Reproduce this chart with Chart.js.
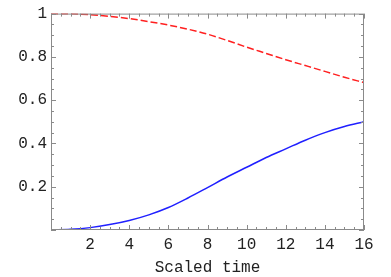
<!DOCTYPE html>
<html>
<head>
<meta charset="utf-8">
<script src="https://cdn.jsdelivr.net/npm/chart.js@4/dist/chart.umd.min.js"></script>
<style>
  html, body { margin: 0; padding: 0; background: #fff; }
  #wrap { position: relative; width: 391px; height: 277px; }
</style>
</head>
<body>
<div id="wrap"><canvas id="c"></canvas></div>
<script>
// values
const times = [0, 1, 2, 3, 4, 5, 6, 7, 8, 9, 10, 11, 12, 13, 14, 15, 16]
const redDashed = [1, 0.999, 0.995, 0.987, 0.977, 0.963, 0.947, 0.928, 0.905, 0.876, 0.845, 0.816, 0.787, 0.76, 0.733, 0.706, 0.681]
const blueSolid = [0, 0.003, 0.011, 0.025, 0.044, 0.07, 0.104, 0.148, 0.196, 0.245, 0.29, 0.335, 0.375, 0.415, 0.45, 0.478, 0.5]
const xTicks = [2, 4, 6, 8, 10, 12, 14, 16]
const yTicks = [0.2, 0.4, 0.6, 0.8, 1]
const xTitle = 'Scaled time'

const pts = (ys) => times.map((t, i) => ({ x: t, y: ys[i] }))
const tickFont = { family: 'Liberation Mono', size: 16 }

// Mathematica-like frame with inward ticks on all four sides
const framePlugin = {
  id: 'frame',
  afterDraw (chart) {
    const { ctx, chartArea: a, scales } = chart
    const sx = scales.x, sy = scales.y
    ctx.save()
    ctx.strokeStyle = '#8a8a8a'
    ctx.lineWidth = 1
    ctx.strokeRect(a.left + 0.5, a.top + 0.5, a.right - a.left - 1, a.bottom - a.top - 1)
    ctx.beginPath()
    for (let v = 0; v <= 16.001; v += 0.5) {
      const px = Math.round(sx.getPixelForValue(v)) + 0.5
      const len = (Math.abs(v % 2) < 1e-6) ? 5 : 3
      ctx.moveTo(px, a.bottom); ctx.lineTo(px, a.bottom - len)
      ctx.moveTo(px, a.top); ctx.lineTo(px, a.top + len)
    }
    for (let v = 0; v <= 1.0001; v += 0.05) {
      const py = Math.round(sy.getPixelForValue(v)) + 0.5
      const major = Math.abs(Math.round(v * 100) % 20) === 0
      const len = major ? 5 : 3
      ctx.moveTo(a.left, py); ctx.lineTo(a.left + len, py)
      ctx.moveTo(a.right, py); ctx.lineTo(a.right - len, py)
    }
    ctx.stroke()
    ctx.restore()
  }
}

new Chart(document.getElementById('c'), {
  type: 'line',
  data: {
    datasets: [{
      data: pts(redDashed),
      borderColor: '#ff2020',
      borderWidth: 1.5,
      borderDash: [7, 3],
      pointRadius: 0,
      cubicInterpolationMode: 'monotone',
      fill: false
    }, {
      data: pts(blueSolid),
      borderColor: '#2020ff',
      borderWidth: 1.5,
      pointRadius: 0,
      cubicInterpolationMode: 'monotone',
      fill: false
    }]
  },
  options: {
    responsive: true,
    maintainAspectRatio: false,
    animation: false,
    layout: { padding: { top: 9, right: 27, left: 0, bottom: 0 } },
    plugins: { legend: { display: false }, tooltip: { enabled: false } },
    scales: {
      x: {
        type: 'linear',
        min: 0,
        max: 16,
        grid: { display: false, drawTicks: false },
        border: { display: false },
        afterBuildTicks: (s) => { s.ticks = xTicks.map(v => ({ value: v })) },
        afterFit: (s) => { s.height = 47 },
        ticks: { font: tickFont, color: '#222', padding: 5, maxRotation: 0 },
        title: { display: true, text: xTitle, font: tickFont, color: '#222', padding: { top: 2, bottom: 0 } }
      },
      y: {
        min: 0,
        max: 1,
        grid: { display: false, drawTicks: false },
        border: { display: false },
        afterBuildTicks: (s) => { s.ticks = yTicks.map(v => ({ value: v })) },
        afterFit: (s) => { s.width = 51 },
        ticks: {
          font: tickFont,
          color: '#222',
          padding: 4,
          callback: (v) => String(Math.round(v * 10) / 10)
        }
      }
    }
  },
  plugins: [framePlugin]
})
</script>
</body>
</html>
